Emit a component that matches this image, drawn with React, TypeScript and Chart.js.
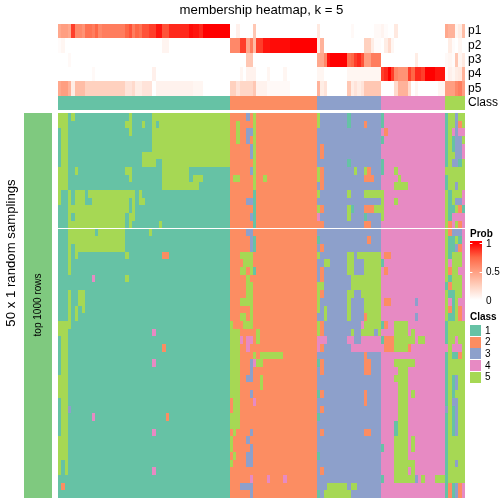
import React, { useEffect, useRef } from "react";
import { Chart, registerables } from "chart.js";

Chart.register(...registerables);

const FONT = '"Liberation Sans", Arial, sans-serif';

const titleText = "membership heatmap, k = 5";
const outerLabel = "50 x 1 random samplings";
const innerLabel = "top 1000 rows";
const topLabels = ["p1", "p2", "p3", "p4", "p5", "Class"];
const classNames = ["1", "2", "3", "4", "5"];
const classCounts = [51, 26, 19, 19, 6];
const classColors = ["#66C2A5", "#FC8D62", "#8DA0CB", "#E78AC3", "#A6D854"];
const sideColor = "#7FC97F";
const probTicks = [1, 0.5, 0];

const zeros = (n: number) => new Array(n).fill(0);

const p1 = [
  .45,.5,.5,.45,.85,.6,.6,.55,.7,.7,.65,.75,.6,.65,.65,.65,.65,.65,.65,.65,.75,.8,.65,.75,.7,.8,.8,.85,.85,.95,.95,.8,.8,.9,.9,.9,.9,.9,.9,.97,.95,.95,.9,1,1,1,1,1,1,1,1,
  0,0,.08,0,0,0,0,.3,...zeros(18),
  .12,...zeros(9),.03,...zeros(6),.03,.03,
  .06,.02,0,0,.12,...zeros(14),
  .45,.4,.4,.05,.1,.35,
];
const p2 = [
  .02,.05,...zeros(29),.06,.06,...zeros(18),
  .6,.6,.6,.85,.85,.45,.65,.35,.85,.85,.95,.95,.97,.97,.97,.97,.97,.97,1,1,1,1,1,1,1,1,
  .1,.4,...zeros(12),.25,.25,.1,.02,.02,
  0,.1,.2,.05,...zeros(15),
  0,.1,.02,0,.05,0,
];
const p3 = [
  0,0,0,.03,...zeros(47),
  0,0,0,0,0,.3,.3,...zeros(19),
  .45,.45,.6,.95,1,1,1,1,1,.7,.75,.85,.9,.8,.5,.5,.65,.65,.65,
  ...zeros(10),.1,...zeros(8),
  .03,.05,.02,.3,.05,.12,
];
const p4 = [
  ...zeros(10),.03,...zeros(17),.08,...zeros(22),
  0,0,0,.05,0,.07,.07,.07,0,0,0,.05,0,0,0,0,.05,...zeros(9),
  .05,.05,...zeros(7),.05,.05,.05,.05,.05,.05,.05,.05,.05,.05,
  .85,.9,1,.85,.6,.55,.55,.55,.85,.75,.9,.9,.85,1,1,1,.95,.95,.95,
  .02,.08,.05,.1,.12,.4,
];
const p5 = [
  .45,.5,.5,.4,.1,.35,.35,.35,.25,.25,.25,.25,.25,.25,.25,.25,.25,.25,.25,.25,.15,.15,.2,.1,.1,.15,.15,.15,0,.07,.07,.07,.07,.07,.07,.07,.07,.07,.07,.07,.05,.05,.05,0,0,0,0,0,0,0,0,
  .25,.25,.15,.22,.22,.22,.22,.3,.07,.07,.07,.03,.03,.03,.03,.03,.03,.03,...zeros(8),
  .4,.1,.15,0,0,0,0,0,0,.3,.1,.15,.1,.15,.3,.3,.3,.3,.3,
  0,0,0,0,.2,.4,.4,.4,.2,0,.05,0,0,0,0,0,0,.05,.05,
  .5,.5,.5,.6,.65,.5,
];

// Departures from each column's own class: [class, first column, last column], one list per row.
const rowEdits: number[][][] = [
  [[5,0,2],[5,4,4],[5,21,21],[5,28,50],[3,56,56],[5,58,58],[5,77,77],[1,86,86],[1,96,96]],
  [[5,0,2],[5,20,21],[5,25,25],[5,28,28],[5,30,50],[5,53,53],[5,58,58],[5,77,77],[1,86,86],[2,91,91],[1,96,96]],
  [[5,1,2],[5,21,21],[5,28,50],[5,53,53],[3,56,57],[5,58,58],[2,97,97]],
  [[5,1,2],[5,28,50],[5,53,53],[3,56,56],[5,58,58],[1,96,96]],
  [[5,1,2],[5,28,50],[3,57,57],[5,58,58],[2,78,78]],
  [[5,1,2],[5,25,50],[3,57,57],[5,58,58],[2,78,78]],
  [[5,1,2],[5,25,28],[5,31,50],[5,58,58],[1,86,86],[1,96,96]],
  [[5,0,2],[5,5,5],[5,20,21],[5,31,38],[3,57,57],[5,58,58],[5,77,77],[2,78,78],[5,88,88],[5,91,91],[2,92,92],[1,96,96],[5,100,100]],
  [[5,0,2],[5,21,21],[5,31,38],[5,40,42],[5,52,53],[5,58,58],[5,61,61],[5,77,77],[2,78,78],[2,91,93],[5,101,101]],
  [[5,0,2],[5,31,41],[5,58,58],[2,78,78],[5,100,103]],
  [[5,0,0],[5,3,3],[5,5,7],[5,9,22],[5,24,24],[1,58,58],[5,77,77],[5,86,86],[5,91,96]],
  [[5,0,0],[5,3,3],[5,5,7],[5,10,20],[5,22,22],[5,24,25],[3,56,57],[1,58,58],[5,96,96],[5,100,100]],
  [[5,3,20],[5,22,22],[1,58,58],[5,77,77],[2,78,78],[5,86,86],[1,87,87],[2,91,93],[5,94,96]],
  [[5,3,3],[5,5,19],[5,21,22],[3,57,57],[1,58,58],[4,77,77],[5,86,86],[1,91,91],[5,96,96]],
  [[5,3,19],[5,21,21],[5,30,30],[1,58,58],[2,77,78],[2,91,92]],
  [[5,3,10],[5,12,19],[5,27,27],[3,56,57]],
  [[5,3,19],[3,57,57],[1,58,58],[1,77,77],[2,92,92]],
  [[5,3,3],[5,5,19],[3,57,57],[1,58,58],[2,78,78]],
  [[5,3,3],[5,5,5],[5,20,20],[2,31,32],[5,54,57],[5,77,77],[5,86,87],[5,89,95],[2,97,98]],
  [[5,3,3],[5,55,57],[5,79,80],[5,86,87],[5,91,95],[1,96,96]],
  [[5,3,3],[5,54,55],[5,57,57],[1,58,58],[2,78,78],[5,86,87],[5,91,95],[2,97,97]],
  [[4,10,10],[5,20,20],[5,56,56],[2,78,78],[5,87,95]],
  [[5,56,57],[5,77,78],[5,87,95]],
  [[5,3,3],[5,6,7],[5,56,57],[5,77,77],[2,78,78],[5,86,87],[5,90,95]],
  [[5,3,3],[5,6,7],[5,54,57],[5,77,77],[5,86,86],[5,91,95],[2,97,98],[3,106,106]],
  [[5,3,3],[5,5,5],[5,7,7],[5,57,57],[5,77,77],[5,79,79],[5,86,86],[5,91,95]],
  [[5,3,3],[5,5,5],[5,54,55],[5,57,57],[5,79,79],[5,86,86],[2,91,91],[5,92,95],[3,106,106]],
  [[5,0,3],[5,51,51],[5,55,57],[5,77,77],[2,78,78],[4,90,90],[5,91,95],[1,96,96],[2,97,97],[5,100,103]],
  [[5,0,2],[4,28,28],[5,51,53],[5,59,59],[5,77,77],[2,78,78],[5,87,87],[5,90,93],[3,94,94],[5,95,95],[5,100,103],[5,105,105]],
  [[5,1,2],[5,51,53],[4,54,54],[4,56,57],[5,59,59],[4,77,79],[4,86,87],[4,90,95],[1,96,96],[2,97,99],[5,100,105],[5,107,108]],
  [[5,1,2],[2,31,31],[5,51,53],[4,56,56],[4,77,77],[2,78,78],[4,87,95],[2,97,99],[5,100,103],[2,104,104]],
  [[5,1,2],[5,51,53],[5,58,58],[5,60,66],[2,91,91]],
  [[5,1,2],[4,28,28],[5,51,53],[3,57,57],[4,58,58],[5,59,60],[1,77,77],[2,78,78],[2,91,92],[5,100,105]],
  [[5,1,2],[5,51,53],[3,57,57],[2,78,78],[2,91,92],[5,101,103]],
  [[5,0,2],[5,51,53],[3,56,57],[5,60,60],[5,100,103]],
  [[5,0,2],[5,51,53],[5,60,60],[5,101,103]],
  [[5,0,2],[5,51,53],[3,57,57],[1,77,77],[2,78,78],[2,91,91],[5,101,103],[5,105,105]],
  [[5,1,2],[5,52,53],[4,58,58],[2,91,91],[5,101,103]],
  [[5,1,2],[3,3,3],[5,52,53],[2,78,78],[5,101,103]],
  [[5,1,2],[4,10,10],[2,32,32],[5,51,53],[1,77,77],[5,101,103]],
  [[5,1,2],[5,51,53],[1,100,100],[5,101,103]],
  [[5,1,2],[4,28,28],[5,52,52],[3,57,57],[2,78,78],[2,91,92],[1,100,100],[5,101,103]],
  [[5,0,2],[5,51,51],[3,56,56],[5,100,103],[5,105,105]],
  [[5,0,2],[5,51,51],[3,57,57],[1,96,96],[5,100,103],[5,105,105]],
  [[5,0,2],[5,52,52],[3,56,57],[1,77,77],[5,100,103]],
  [[5,0,0],[5,2,2],[5,51,51],[3,56,57],[5,100,105]],
  [[5,0,0],[5,2,2],[4,28,28],[2,78,78],[5,100,103],[4,104,104],[5,105,105]],
  [[4,57,57],[4,62,62],[4,67,67],[1,96,96],[5,100,105],[3,106,106],[5,108,108],[5,112,114]],
  [[2,1,1],[3,54,57],[5,80,85],[5,87,88]],
  [[3,57,57],[1,77,77],[5,79,86]],
  ];

// The last six columns, read cell by cell for each row.
const lastColumns = [
  "155355","155325","154344","151335","151334","155334","153315","555555","155555","155355",
  "515554","515334","511521","514444","524524","523334","511514","511324","515554","545554",
  "525544","515554","125554","511554","541544","521524","511524","155555","155555","155455",
  "454445","151125","155555","155555","151355","151355","151555","153355","351355","151355",
  "151355","151355","155555","155555","155555","155355","155555","155555","121324","121324",
];

const columnClass: number[] = classCounts.flatMap((count, i) => new Array(count).fill(i + 1));
const COLS = columnClass.length;

const matrix: number[][] = rowEdits.map((edits, r) => {
  const row = [...columnClass];
  for (const [cls, from, to] of edits) for (let c = from; c <= to; c++) row[c] = cls;
  [...lastColumns[r]].forEach((ch, k) => { row[COLS - 6 + k] = Number(ch); });
  return row;
});
const rowLabels = matrix.map((_, r) => `row ${r + 1}`);

const rampStops = [[255,255,255],[255,209,191],[255,158,129],[255,103,70],[255,0,0]];
function probColor(v: number) {
  const t = Math.max(0, Math.min(1, v)) * (rampStops.length - 1);
  const i = Math.min(Math.floor(t), rampStops.length - 2);
  const f = t - i;
  const c = rampStops[i].map((a, k) => Math.round(a + (rampStops[i + 1][k] - a) * f));
  return `rgb(${c[0]},${c[1]},${c[2]})`;
}

const probRows = [p1, p2, p3, p4, p5];

function buildDatasets() {
  const sets: any[] = [];
  const base = { barPercentage: 1, categoryPercentage: 1, borderWidth: 0, inflateAmount: 0, clip: false };
  for (let c = 0; c < COLS; c++) {
    sets.push({
      ...base,
      label: `column ${c + 1}`,
      xAxisID: "xMain",
      yAxisID: "yTop",
      data: topLabels.map(() => 1),
      backgroundColor: [...probRows.map((p) => probColor(p[c] ?? 0)), classColors[columnClass[c] - 1]],
    });
    sets.push({
      ...base,
      label: `column ${c + 1} rows`,
      xAxisID: "xMain",
      yAxisID: "yMain",
      data: matrix.map(() => 1),
      backgroundColor: matrix.map((row) => classColors[row[c] - 1]),
    });
  }
  sets.push({
    ...base,
    label: "samplings",
    xAxisID: "xSide",
    yAxisID: "ySide",
    data: [1],
    backgroundColor: sideColor,
  });
  return sets;
}

const placeBox = (s: any, left: number, right: number, top: number, bottom: number) => {
  s.left = left; s.right = right; s.top = top; s.bottom = bottom;
  s.width = right - left; s.height = bottom - top;
  s.configure();
};

const placement = {
  id: "placement",
  afterLayout(chart: any) {
    placeBox(chart.scales.yMain, 58, 58, 113, 498);
    placeBox(chart.scales.yTop, 465, 504, 24, 110);
    placeBox(chart.scales.xMain, 58, 465, 498, 498);
    placeBox(chart.scales.xSide, 24, 52, 498, 498);
    placeBox(chart.scales.ySide, 24, 24, 113, 498);
  },
  // Every bar keeps the full height of its row on its own scale, on whole pixels.
  afterDatasetsUpdate(chart: any) {
    chart.data.datasets.forEach((_: any, i: number) => {
      const meta = chart.getDatasetMeta(i);
      const yScale = meta.yScale;
      const step = yScale.height / yScale.getLabels().length;
      meta.data.forEach((el: any, index: number) => {
        const center = yScale.getPixelForValue(index);
        const top = Math.round(center - step / 2);
        const bottom = Math.round(center + step / 2);
        el.x = Math.round(el.x);
        el.base = Math.round(el.base);
        el.y = (top + bottom) / 2;
        el.height = bottom - top;
      });
    });
  },
};

const decorations = {
  id: "decorations",
  afterDraw(chart: any) {
    const ctx = chart.ctx as CanvasRenderingContext2D;
    ctx.save();
    ctx.fillStyle = "#000";
    ctx.textBaseline = "middle";

    const rotated = (text: string, x: number, y: number, size: number) => {
      ctx.save();
      ctx.translate(x, y);
      ctx.rotate(-Math.PI / 2);
      ctx.textAlign = "center";
      ctx.font = `${size}px ${FONT}`;
      ctx.fillText(text, 0, 0);
      ctx.restore();
    };
    rotated(outerLabel, 11, 253, 13.2);
    rotated(innerLabel, 38, 305, 10);

    ctx.textAlign = "left";
    ctx.font = `bold 10px ${FONT}`;
    ctx.fillText("Prob", 470, 234);

    const gx = 470, gw = 12, gTop = 241, gBottom = 300;
    const y1 = 243, y0 = 300;
    const grad = ctx.createLinearGradient(0, y1, 0, y0);
    rampStops.forEach((_, i) => {
      const v = i / (rampStops.length - 1);
      grad.addColorStop(1 - v, probColor(v));
    });
    ctx.fillStyle = grad;
    ctx.fillRect(gx, gTop, gw, gBottom - gTop);

    ctx.font = `10px ${FONT}`;
    for (const t of probTicks) {
      const y = y0 + (y1 - y0) * t;
      ctx.fillStyle = "#fff";
      ctx.fillRect(gx, Math.round(y), 2.4, 1);
      ctx.fillRect(gx + gw - 2.4, Math.round(y), 2.4, 1);
      ctx.fillStyle = "#000";
      ctx.fillText(String(t), 486, y + 1);
    }

    ctx.font = `bold 10px ${FONT}`;
    ctx.fillText("Class", 470, 317);
    const swTop = 325, swStep = 11.65;
    ctx.font = `10px ${FONT}`;
    classNames.forEach((name, i) => {
      const y = swTop + swStep * i;
      ctx.fillStyle = classColors[i];
      ctx.fillRect(470, Math.round(y), 11, Math.round(swStep) - 1);
      ctx.fillStyle = "#000";
      ctx.fillText(name, 485, y + swStep / 2);
    });
    ctx.restore();
  },
};

export default function App() {
  const ref = useRef<HTMLCanvasElement>(null);
  useEffect(() => {
    document.body.style.margin = "0";
    const hidden = { display: false };
    const zeroWidth = (s: any) => { s.width = 0; };
    const chart = new Chart(ref.current!, {
      type: "bar",
      data: { datasets: buildDatasets() },
      plugins: [placement, decorations],
      options: {
        indexAxis: "y",
        responsive: false,
        animation: false,
        layout: { padding: { left: 58, right: 39, top: 0, bottom: 6 } },
        plugins: {
          legend: { display: false },
          tooltip: { enabled: false },
          title: {
            display: true,
            text: titleText,
            color: "#000",
            font: { family: FONT, size: 13.2, weight: "normal" },
            padding: { top: 2.8, bottom: 2 },
          },
        },
        scales: {
          xMain: { type: "linear", stacked: true, min: 0, max: COLS, ...hidden },
          xSide: { type: "linear", stacked: true, min: 0, max: 1, ...hidden },
          yMain: { type: "category", stacked: true, labels: rowLabels, offset: true, ...hidden },
          ySide: { type: "category", stacked: true, labels: [outerLabel], offset: true, ...hidden },
          yTop: {
            type: "category",
            stacked: true,
            labels: topLabels,
            offset: true,
            position: "right",
            afterFit: zeroWidth,
            border: { display: false },
            grid: { display: false, drawTicks: false },
            ticks: { color: "#000", padding: 3, autoSkip: false, font: { family: FONT, size: 12 } },
          },
        },
      } as any,
    });
    return () => chart.destroy();
  }, []);
  return <canvas ref={ref} width={504} height={504} style={{ display: "block" }} />;
}
